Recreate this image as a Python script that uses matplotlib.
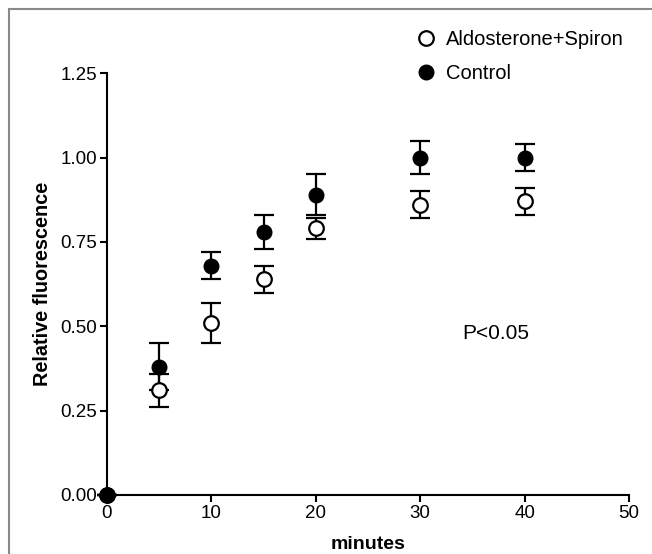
import matplotlib
matplotlib.use("Agg")
import matplotlib.pyplot as plt
from matplotlib.patches import Rectangle

plt.rcParams['font.family'] = ['Liberation Sans', 'DejaVu Sans']

# data
minutes = [0, 5, 10, 15, 20, 30, 40]
aldo = [0.0, 0.31, 0.51, 0.64, 0.79, 0.86, 0.87]
aldo_err = [0.0, 0.05, 0.06, 0.04, 0.03, 0.04, 0.04]
control = [0.0, 0.38, 0.68, 0.78, 0.89, 1.00, 1.00]
control_err = [0.0, 0.07, 0.04, 0.05, 0.06, 0.05, 0.04]
xticks = [0, 10, 20, 30, 40, 50]
yticks = [0.00, 0.25, 0.50, 0.75, 1.00, 1.25]

fig = plt.figure(figsize=(6.52, 5.54), dpi=100)
ax = fig.add_axes([0.164, 0.1065, 0.801, 0.7615])

# frame around the whole picture
fig.patches.append(Rectangle((9 / 652, -0.01), 1.0, 1 - 9 / 554 + 0.01,
                             transform=fig.transFigure, fill=False,
                             edgecolor='#8a8a8a', linewidth=1.5))

ax.errorbar(minutes, control, yerr=control_err, fmt='o', color='black',
            mfc='black', mec='black', ms=10.5, capsize=7.5, elinewidth=1.6,
            capthick=1.6, clip_on=False, zorder=3, label='Control')
ax.errorbar(minutes, aldo, yerr=aldo_err, fmt='o', color='black',
            mfc='white', mec='black', mew=1.6, ms=10.5, capsize=7.5,
            elinewidth=1.6, capthick=1.6, clip_on=False, zorder=4,
            label='Aldosterone+Spiron')
# control at 0 on top
ax.plot([0], [0], 'o', color='black', ms=10.5, clip_on=False, zorder=5)

ax.set_xlim(0, 50)
ax.set_ylim(0, 1.25)
ax.set_xticks(xticks)
ax.set_yticks(yticks)
ax.set_yticklabels(['%.2f' % v for v in yticks])
ax.spines['top'].set_visible(False)
ax.spines['right'].set_visible(False)
ax.spines['left'].set_linewidth(1.5)
ax.spines['bottom'].set_linewidth(1.5)
ax.tick_params(direction='out', length=5, width=1.5, labelsize=13.5, pad=2)

ax.set_xlabel('minutes', fontsize=14, fontweight='bold', labelpad=10)
ax.set_ylabel('Relative fluorescence', fontsize=14.3, fontweight='bold', labelpad=6)

ax.text(34, 0.48, 'P<0.05', fontsize=15, va='center', ha='left')

handles, labels = ax.get_legend_handles_labels()
order = [1, 0]
leg = ax.legend([handles[i][0] for i in order], [labels[i] for i in order],
                loc='upper left', bbox_to_anchor=(398 / 652, 1 - 12 / 554),
                bbox_transform=fig.transFigure, frameon=False, fontsize=14.5,
                handletextpad=0.5, labelspacing=0.75, handlelength=1.0)

fig.savefig('out.png', dpi=100)
